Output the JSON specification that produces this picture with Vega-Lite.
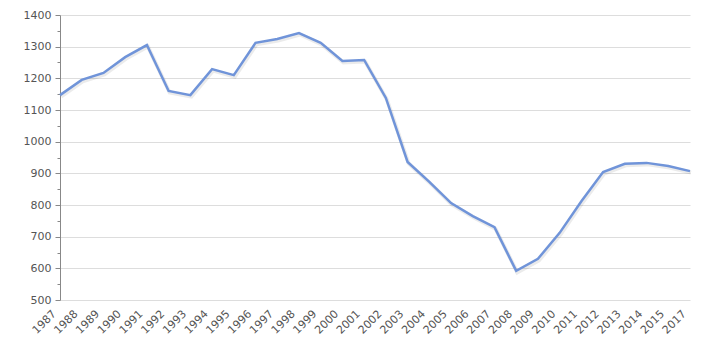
{
  "$schema": "https://vega.github.io/schema/vega-lite/v6.json",
  "width": 630,
  "height": 285,
  "autosize": {"type": "none"},
  "padding": {"left": 60, "top": 15, "right": 30, "bottom": 50},
  "background": "white",
  "config": {
    "view": {"stroke": null},
    "axis": {"labelFont": "DejaVu Sans", "labelColor": "#555555", "labelFontSize": 11}
  },
  "data": {
    "values": [
      {"year": "1987", "value": 1147},
      {"year": "1988", "value": 1195},
      {"year": "1989", "value": 1217},
      {"year": "1990", "value": 1267},
      {"year": "1991", "value": 1305},
      {"year": "1992", "value": 1160},
      {"year": "1993", "value": 1147},
      {"year": "1994", "value": 1229},
      {"year": "1995", "value": 1210},
      {"year": "1996", "value": 1312},
      {"year": "1997", "value": 1324},
      {"year": "1998", "value": 1343},
      {"year": "1999", "value": 1312},
      {"year": "2000", "value": 1255},
      {"year": "2001", "value": 1258},
      {"year": "2002", "value": 1138},
      {"year": "2003", "value": 936},
      {"year": "2004", "value": 873},
      {"year": "2005", "value": 806},
      {"year": "2006", "value": 765},
      {"year": "2007", "value": 730},
      {"year": "2008", "value": 592},
      {"year": "2009", "value": 630},
      {"year": "2010", "value": 712},
      {"year": "2011", "value": 812},
      {"year": "2012", "value": 904},
      {"year": "2013", "value": 930},
      {"year": "2014", "value": 933},
      {"year": "2015", "value": 923},
      {"year": "2017", "value": 907}
    ]
  },
  "encoding": {
    "x": {
      "field": "year",
      "type": "ordinal",
      "scale": {"type": "point", "padding": 0},
      "axis": {
        "title": null,
        "labelAngle": -45,
        "labelAlign": "right",
        "labelBaseline": "middle",
        "ticks": false,
        "domain": false,
        "grid": false,
        "labelPadding": 12,
        "labelOffset": -6
      }
    },
    "y": {
      "field": "value",
      "type": "quantitative",
      "scale": {"domain": [500, 1400], "nice": false, "zero": false},
      "axis": {
        "title": null,
        "format": "d",
        "values": [500, 550, 600, 650, 700, 750, 800, 850, 900, 950, 1000, 1050, 1100, 1150, 1200, 1250, 1300, 1350, 1400],
        "labelExpr": "datum.value % 100 === 0 ? datum.label : ''",
        "tickSize": {"expr": "datum.value % 100 === 0 ? 5 : 3"},
        "grid": true,
        "gridColor": "#dddddd",
        "gridOpacity": {"expr": "datum.value % 100 === 0 ? 1 : 0"},
        "domainColor": "#888888",
        "tickColor": "#888888",
        "labelPadding": 4
      }
    }
  },
  "layer": [
    {
      "mark": {"type": "line", "color": "#000000", "opacity": 0.08, "strokeWidth": 4, "yOffset": 1.5, "xOffset": 1}
    },
    {
      "mark": {"type": "line", "color": "#7094d9", "strokeWidth": 2.5}
    }
  ]
}
